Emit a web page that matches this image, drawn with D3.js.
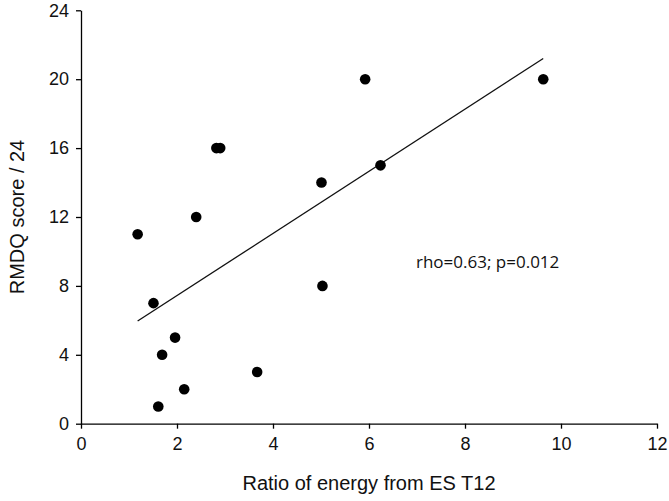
<!DOCTYPE html>
<html>
<head>
<meta charset="utf-8">
<script src="https://cdn.jsdelivr.net/npm/d3@7"></script>
<style>
  html, body { margin: 0; padding: 0; background: #fff; }
  svg { display: block; }
</style>
</head>
<body>
<svg id="chart" width="669" height="501"></svg>
<script>
// Data
const xValues = [1.18, 2.40, 2.82, 2.90, 1.51, 1.96, 1.69, 2.15, 1.61, 5.92, 5.01, 6.24, 5.03, 3.67, 9.63];
const yValues = [11, 12, 16, 16, 7, 5, 4, 2, 1, 20, 14, 15, 8, 3, 20];
const fitLineX = [1.18, 9.63];
const fitLineY = [5.96, 21.2];
const xTicks = [0, 2, 4, 6, 8, 10, 12];
const yTicks = [0, 4, 8, 12, 16, 20, 24];
const xTitle = "Ratio of energy from ES T12";
const yTitle = "RMDQ score / 24";
const annotation = "rho=0.63; p=0.012";
const annotationPos = [7.0, 9.3];

(function () {
const svg = d3.select("#chart");
const mLeft = 81, mRight = 657, mTop = 10.3, mBottom = 423.7;

const x = d3.scaleLinear().domain([0, 12]).range([mLeft, mRight]);
const y = d3.scaleLinear().domain([0, 24]).range([mBottom, mTop]);

const tickFont = "'Liberation Sans', Arial, sans-serif";

const xAxis = svg.append("g")
  .attr("transform", `translate(0,${mBottom})`)
  .call(d3.axisBottom(x).tickValues(xTicks).tickSize(5).tickSizeOuter(0).tickPadding(9));
const yAxis = svg.append("g")
  .attr("transform", `translate(${mLeft},0)`)
  .call(d3.axisLeft(y).tickValues(yTicks).tickSize(5).tickSizeOuter(0).tickPadding(7));

[xAxis, yAxis].forEach(g => {
  g.select(".domain").attr("stroke", "#000").attr("stroke-width", 1.3);
  g.selectAll(".tick line").attr("stroke", "#000").attr("stroke-width", 1.3);
  g.selectAll(".tick text").attr("fill", "#111").style("font-family", tickFont).style("font-size", "18px");
});

// regression line
svg.append("line")
  .attr("x1", x(fitLineX[0])).attr("y1", y(fitLineY[0]))
  .attr("x2", x(fitLineX[1])).attr("y2", y(fitLineY[1]))
  .attr("stroke", "#111").attr("stroke-width", 1.3);

// points
const pts = xValues.map((v, i) => ({ x: v, y: yValues[i] }));
svg.append("g").selectAll("circle").data(pts).join("circle")
  .attr("cx", d => x(d.x)).attr("cy", d => y(d.y))
  .attr("r", 5.3).attr("fill", "#000");

// annotation
svg.append("text")
  .attr("x", x(annotationPos[0]) - 1).attr("y", y(annotationPos[1]))
  .attr("dominant-baseline", "middle")
  .style("font-family", "'Open Sans', sans-serif").style("font-size", "17px")
  .attr("fill", "#111")
  .text(annotation);

// axis titles
svg.append("text")
  .attr("x", (mLeft + mRight) / 2).attr("y", 490)
  .attr("text-anchor", "middle")
  .style("font-family", tickFont).style("font-size", "20px").attr("fill", "#111")
  .text(xTitle);

svg.append("text")
  .attr("transform", `translate(24,${(mTop + mBottom) / 2}) rotate(-90)`)
  .attr("text-anchor", "middle")
  .style("font-family", tickFont).style("font-size", "20px").attr("fill", "#111")
  .text(yTitle);
})();
</script>
</body>
</html>
